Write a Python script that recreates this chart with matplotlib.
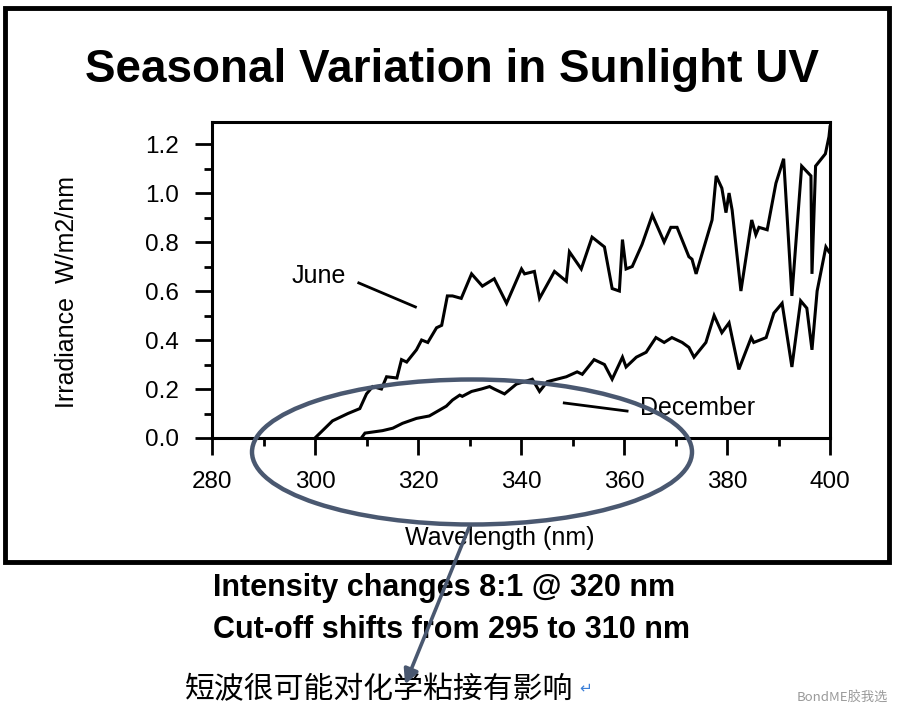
import matplotlib
matplotlib.use("Agg")
import matplotlib.pyplot as plt
from matplotlib.patches import Rectangle, Ellipse, FancyArrowPatch
from matplotlib.ticker import MultipleLocator

plt.rcParams['font.family'] = ['Liberation Sans', 'DejaVu Sans']

# ---------------- data ----------------
june_wavelength = [300.0, 303.4, 306.4, 308.7, 310.0, 311.2, 312.9, 313.9, 315.9,
                   316.8, 317.8, 319.7, 320.7, 321.9, 323.6, 324.6, 325.7, 326.7, 328.4,
                   330.4, 332.5, 334.8, 337.2, 340.1, 340.7, 342.6, 343.6, 346.5, 348.8,
                   349.4, 351.7, 353.8, 356.2, 357.7, 359.1, 359.7, 360.4, 361.6, 363.5,
                   365.5, 367.8, 369.1, 370.3, 372.6, 373.2, 374.0, 377.1, 377.9, 379.0,
                   379.8, 380.4, 381.0, 382.7, 384.8, 385.6, 386.2, 387.8, 389.5, 391.0,
                   392.6, 394.5, 396.3, 396.5, 397.2, 399.1, 399.8, 400.0]
june_irradiance = [0.0, 0.07, 0.10, 0.12, 0.18, 0.21, 0.20, 0.25, 0.245,
                   0.32, 0.31, 0.36, 0.40, 0.39, 0.45, 0.46, 0.58, 0.58, 0.57,
                   0.67, 0.62, 0.65, 0.55, 0.69, 0.67, 0.68, 0.57, 0.68, 0.64,
                   0.76, 0.69, 0.82, 0.78, 0.61, 0.60, 0.81, 0.69, 0.70, 0.79,
                   0.91, 0.80, 0.86, 0.86, 0.74, 0.73, 0.67, 0.89, 1.07, 1.02,
                   0.92, 1.00, 0.93, 0.60, 0.89, 0.83, 0.86, 0.85, 1.04, 1.14,
                   0.58, 1.11, 1.07, 0.67, 1.11, 1.16, 1.23, 1.27]

dec_wavelength = [309.0, 309.7, 313.1, 315.1, 317.0, 319.7, 322.2, 325.5, 326.7,
                  328.1, 328.6, 330.4, 332.3, 333.9, 334.8, 336.8, 339.1, 342.2, 343.6,
                  345.1, 348.8, 350.9, 351.9, 354.2, 356.2, 357.7, 359.7, 360.4, 362.4,
                  364.3, 366.2, 367.8, 369.3, 371.3, 372.6, 373.6, 375.9, 377.5, 379.0,
                  380.4, 382.3, 384.7, 385.2, 387.6, 389.1, 390.7, 392.6, 394.3, 395.5,
                  396.5, 397.5, 399.2, 399.8]
dec_irradiance = [0.0, 0.02, 0.03, 0.04, 0.06, 0.08, 0.09, 0.13, 0.155,
                  0.175, 0.17, 0.19, 0.20, 0.21, 0.20, 0.18, 0.22, 0.24, 0.19,
                  0.23, 0.25, 0.27, 0.26, 0.32, 0.30, 0.24, 0.33, 0.29, 0.33,
                  0.35, 0.41, 0.39, 0.41, 0.39, 0.37, 0.33, 0.39, 0.50, 0.43,
                  0.47, 0.28, 0.41, 0.39, 0.41, 0.51, 0.55, 0.29, 0.56, 0.53,
                  0.36, 0.60, 0.78, 0.76]

x_ticks = [280, 300, 320, 340, 360, 380, 400]
y_ticks = [0.0, 0.2, 0.4, 0.6, 0.8, 1.0, 1.2]
y_tick_labels = ["0.0", "0.2", "0.4", "0.6", "0.8", "1.0", "1.2"]

title_text = "Seasonal Variation in Sunlight UV"
note_lines = ["Intensity changes 8:1 @ 320 nm", "Cut-off shifts from 295 to 310 nm"]
cn_note = "短波很可能对化学粘接有影响"
watermark = "BondME胶我选"

W, H = 900, 715


def fx(x):
    return x / W


def fy(y):
    return 1 - y / H


fig = plt.figure(figsize=(9, 7.15), dpi=100)
fig.patch.set_facecolor("white")

ax = fig.add_axes([fx(212), fy(438), 618 / W, 316 / H])
ax.plot(june_wavelength, june_irradiance, color="black", lw=2.2, solid_joinstyle="miter")
ax.plot(dec_wavelength, dec_irradiance, color="black", lw=2.2, solid_joinstyle="miter")

ax.set_xlim(280, 400)
ax.set_ylim(0, 1.29)
ax.set_xticks(x_ticks)
ax.set_yticks(y_ticks)
ax.set_yticklabels(y_tick_labels)
ax.xaxis.set_minor_locator(MultipleLocator(10))
ax.yaxis.set_minor_locator(MultipleLocator(0.1))
ax.tick_params(which="major", direction="out", length=12, width=2, labelsize=17.5, pad=12)
ax.tick_params(which="minor", direction="out", length=6, width=2)
ax.tick_params(axis="x", which="both", top=False)
ax.tick_params(axis="y", which="both", right=False)
for s in ax.spines.values():
    s.set_linewidth(2.2)

ax.set_xlabel("Wavelength (nm)", fontsize=18)
ax.xaxis.set_label_coords(0.466, -0.28)
ax.set_ylabel("Irradiance  W/m2/nm", fontsize=18)
ax.yaxis.set_label_coords(-0.215, 0.462)

# curve labels
ax.text(300.7, 0.66, "June", fontsize=18, ha="center", va="center")
ax.plot([308.5, 319.5], [0.633, 0.535], color="black", lw=2)
ax.text(363.1, 0.122, "December", fontsize=18, ha="left", va="center")
ax.plot([348.4, 360.6], [0.143, 0.11], color="black", lw=2)

# title
fig.text(fx(452), fy(70), title_text, ha="center", va="center",
         fontsize=33, fontweight="bold")

# outer frame
fig.add_artist(Rectangle((fx(5), fy(562)), 884 / W, 554 / H, transform=fig.transFigure,
                         fill=False, ec="black", lw=3.5))

# notes
fig.text(fx(213), fy(588), note_lines[0], ha="left", va="center", fontsize=22, fontweight="bold")
fig.text(fx(213), fy(630), note_lines[1], ha="left", va="center", fontsize=22, fontweight="bold")
fig.text(fx(185), fy(690), cn_note, ha="left", va="center", fontsize=21.5,
         family=["Noto Sans CJK SC", "DejaVu Sans"])
fig.text(fx(579), fy(688), "↵", ha="left", va="center", fontsize=11, color="#3b7fd8",
         family=["DejaVu Sans"])
fig.text(fx(888), fy(697), watermark, ha="right", va="center", fontsize=9.5, color="#9a9a9a",
         family=["Noto Sans CJK SC", "DejaVu Sans"])

# highlight ellipse and arrow
slate = "#4a5870"
fig.add_artist(Ellipse((fx(472), fy(452)), 440 / W, 145 / H, transform=fig.transFigure,
                       fill=False, ec=slate, lw=3.2, zorder=10))
fig.add_artist(FancyArrowPatch((fx(470), fy(525)), (fx(404), fy(687)), transform=fig.transFigure,
                               arrowstyle="-|>", mutation_scale=22, lw=2.6, color=slate,
                               zorder=11))

fig.savefig("out.png", dpi=100)
